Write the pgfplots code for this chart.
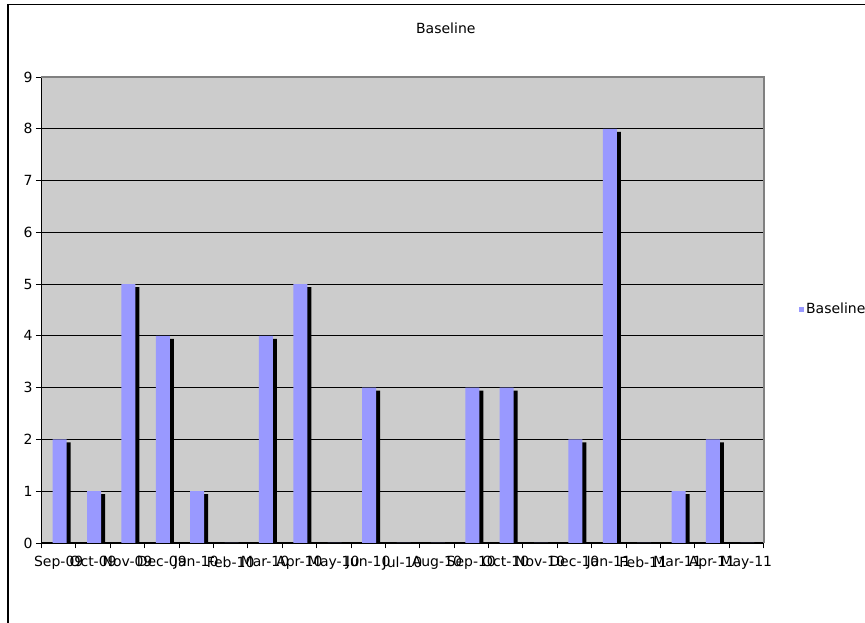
\documentclass[border=0pt]{standalone}
\usepackage{fontspec}
\setmainfont{DejaVu Sans}
\usepackage{pgfplots}
\pgfplotsset{compat=1.18}
\definecolor{barblue}{HTML}{9999FF}
\definecolor{plotbg}{HTML}{CCCCCC}
\definecolor{framegray}{HTML}{808080}
\begin{document}
\begin{tikzpicture}[x=1pt,y=1pt]
\useasboundingbox (0,0) rectangle (865,623);
\draw[line width=1.5pt] (8,-5) -- (8,618.5) -- (875,618.5);
\begin{axis}[
  at={(41.5pt,80pt)}, anchor=south west,
  scale only axis, width=722pt, height=466pt,
  xmin=-0.5, xmax=20.5, ymin=0, ymax=9,
  font=\fontsize{14}{16}\selectfont,
  /pgf/number format/assume math mode=true,
  axis background/.style={fill=plotbg},
  axis lines*=left,
  axis line style={black, line width=1pt, -},
  ytick={0,1,...,9},
  xtick={-0.5,0.5,...,20.5},
  xticklabels={},
  extra x ticks={0,1,...,20},
  extra x tick labels={Sep-09,Oct-09,Nov-09,Dec-09,Jan-10,Feb-10,Mar-10,Apr-10,May-10,Jun-10,Jul-10,Aug-10,Sep-10,Oct-10,Nov-10,Dec-10,Jan-11,Feb-11,Mar-11,Apr-11,May-11},
  extra x tick style={major tick length=0pt, xticklabel style={yshift=-10pt}},
  tick align=outside,
  major tick length=5.5pt,
  tick style={black, line width=0.8pt},
  ymajorgrids,
  major grid style={black, line width=0.9pt},
  legend style={at={(1.049,0.502)}, anchor=west, draw=none, fill=none, inner sep=0pt},
  legend image code/.code={\fill[barblue] (0pt,-2.5pt) rectangle (5pt,2.5pt);},
  title={Baseline},
  title style={at={(0.56,1)}, anchor=base, yshift=37.7pt},
  after end axis/.code={\draw[framegray, line width=2pt] (rel axis cs:0,1) -- (rel axis cs:1,1) -- (rel axis cs:1,0);},
]
\addplot[ybar, bar width=14pt, bar shift=5pt, fill=black, draw=none, yshift=-3pt, forget plot]
  coordinates {(0,2) (1,1) (2,5) (3,4) (4,1) (5,0) (6,4) (7,5) (8,0) (9,3) (10,0) (11,0) (12,3) (13,3) (14,0) (15,2) (16,8) (17,0) (18,1) (19,2) (20,0)};
\addplot[ybar, bar width=14pt, bar shift=1pt, fill=barblue, draw=none]
  coordinates {(0,2) (1,1) (2,5) (3,4) (4,1) (5,0) (6,4) (7,5) (8,0) (9,3) (10,0) (11,0) (12,3) (13,3) (14,0) (15,2) (16,8) (17,0) (18,1) (19,2) (20,0)};
\addlegendentry{Baseline}
\end{axis}
\end{tikzpicture}
\end{document}
